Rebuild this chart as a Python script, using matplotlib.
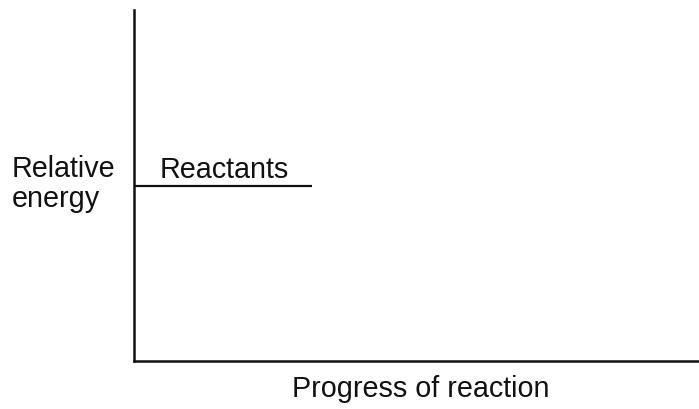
import matplotlib
matplotlib.use("Agg")
import matplotlib.pyplot as plt

# Data
reactant_energy = 0.5
reactant_x = [0.0, 0.315]
x_label = "Progress of reaction"
y_label_lines = ["Relative", "energy"]
level_label = "Reactants"

plt.rcParams['font.family'] = ['Liberation Sans', 'DejaVu Sans']
FS = 20.7
C = '#111111'

fig = plt.figure(figsize=(6.99, 4.09), dpi=100)
ax = fig.add_axes([134/699, (409-361)/409, 1 - 134/699, (361-10)/409])
ax.set_xlim(0, 1)
ax.set_ylim(0, 1)

ax.plot(reactant_x, [reactant_energy, reactant_energy], color=C, lw=1.6,
        solid_capstyle='butt')
ax.text(0.045, reactant_energy + 0.021, level_label, fontsize=FS, color=C,
        ha='left', va='baseline')

for s in ['top', 'right']:
    ax.spines[s].set_visible(False)
for s in ['left', 'bottom']:
    ax.spines[s].set_linewidth(1.8)
    ax.spines[s].set_color(C)
ax.set_xticks([])
ax.set_yticks([])

for i, line in enumerate(y_label_lines):
    fig.text(12/699, 1 - (177 + 30*i)/409, line, fontsize=FS, color=C,
             ha='left', va='baseline')
fig.text(421/699, 1 - 397/409, x_label, fontsize=FS, color=C,
         ha='center', va='baseline')

fig.savefig("out.png", dpi=100)
